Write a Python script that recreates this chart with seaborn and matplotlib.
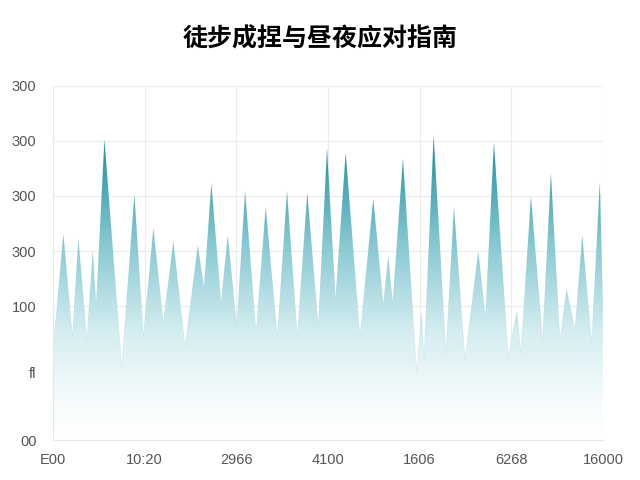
import numpy as np
import matplotlib
matplotlib.use("Agg")
import matplotlib.pyplot as plt
from matplotlib.colors import LinearSegmentedColormap
import seaborn as sns

# series (x along the axis 0-600, y height 0-354)
x_vals = [0, 11.2, 21.1, 27.6, 36.8, 43.3, 46.9, 56.0, 74.9, 88.7, 98.5, 109.4, 120.3,
          131.2, 144.0, 157.9, 164.7, 172.7, 183.3, 190.6, 200.4, 209.5, 221.5, 232.0,
          244.7, 255.3, 266.5, 277.4, 289.4, 298.9, 308.2, 319.3, 334.9, 349.4, 360.3,
          365.8, 370.6, 381.8, 396.8, 402.2, 404.7, 415.3, 428.7, 437.5, 449.5, 464.0,
          471.8, 481.1, 496.7, 506.2, 510.5, 521.5, 534.2, 543.3, 553.1, 560.4, 569.5,
          577.5, 587.7, 596.7, 600]
y_vals = [90, 205, 103, 200, 100, 188, 133, 300, 73, 245, 103, 211, 117,
          198, 93, 194, 152, 256, 137, 204, 113, 248, 107, 232,
          103, 248, 103, 247, 113, 291, 140, 287, 103, 241, 135,
          183, 137, 281, 67, 127, 80, 304, 87, 232, 80, 188,
          122, 297, 83, 129, 87, 243, 100, 266, 100, 151, 110,
          204, 97, 257, 130]

x_ticks = [0, 100, 200, 300, 400, 500, 600]
x_labels = ["E00", "10:20", "2966", "4100", "1606", "6268", "16000"]
y_ticks = [0, 55, 134, 189, 244, 299, 354]
y_labels = ["00", "", "100", "300", "300", "300", "300"]

title = "徒步成捏与昼夜应对指南"
teal = "#13808f"

sns.set_theme(style="whitegrid")
plt.rcParams['font.family'] = ['Liberation Sans', 'DejaVu Sans']

fig, ax = plt.subplots(figsize=(6.4, 4.8), dpi=100)
fig.subplots_adjust(left=0.083, right=0.942, bottom=0.083, top=0.821)

sns.lineplot(x=x_vals, y=y_vals, ax=ax, color=teal, linewidth=0.4, alpha=0.12)

# gradient area under the spikes
poly = ax.fill_between(x_vals, y_vals, 0, facecolor="none", edgecolor="none")
cmap = LinearSegmentedColormap.from_list(
    "tealfade",
    [(0.0, "#ffffff"), (0.12, "#f5fbfc"), (0.3, "#d6eef1"),
     (0.55, "#88c9d2"), (0.8, "#2c98a8"), (1.0, teal)])
grad = np.linspace(0, 1, 256).reshape(-1, 1)
im = ax.imshow(grad, cmap=cmap, aspect="auto", origin="lower",
               extent=[0, 600, 0, 354], zorder=1.5)
im.set_clip_path(poly.get_paths()[0], transform=ax.transData)

ax.set_xlim(0, 600)
ax.set_ylim(0, 354)
ax.set_xticks(x_ticks)
ax.set_xticklabels(x_labels)
ax.set_yticks(y_ticks)
ax.set_yticklabels(y_labels)
ax.set_yticks([68], minor=True)
ax.set_yticklabels(["fl"], minor=True)
ax.grid(True, which="major", color="#ececec", linewidth=0.8)
ax.grid(False, which="minor")
ax.tick_params(axis="both", which="both", length=0, labelsize=10.5, labelcolor="#555555")
ax.tick_params(axis="x", pad=9)
ax.tick_params(axis="y", which="both", pad=12)
ax.set_xlabel("")
ax.set_ylabel("")
for side in ["top", "right"]:
    ax.spines[side].set_visible(False)
for side in ["left", "bottom"]:
    ax.spines[side].set_color("#e6e6e6")
    ax.spines[side].set_linewidth(0.8)

fig.suptitle(title, y=0.944, fontsize=18, fontweight="heavy",
             family=["Noto Sans CJK SC", "DejaVu Sans"], color="#000000")

fig.savefig("out.png", dpi=100, facecolor="white")
